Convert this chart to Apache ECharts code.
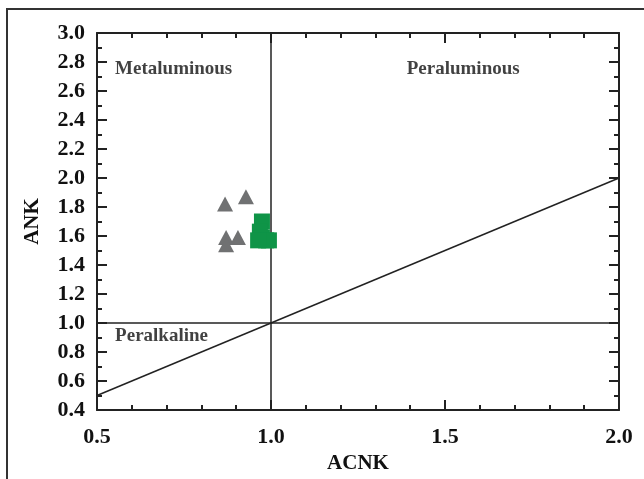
<!DOCTYPE html>
<html><head><meta charset="utf-8">
<script src="https://cdn.jsdelivr.net/npm/echarts@6/dist/echarts.min.js"></script>
<style>html,body{margin:0;padding:0;background:#fff}#c{width:644px;height:479px}</style>
</head><body><div id="c"></div>
<script>
const xTicks = [0.5, 1.0, 1.5, 2.0];
const yTicks = [0.4,0.6,0.8,1.0,1.2,1.4,1.6,1.8,2.0,2.2,2.4,2.6,2.8,3.0];
const triangleACNK = [0.868, 0.928, 0.871, 0.905, 0.871];
const triangleANK  = [1.82, 1.87, 1.59, 1.59, 1.54];
const squareACNK = [0.974, 0.968, 0.974, 0.986, 0.994, 0.963];
const squareANK  = [1.70, 1.63, 1.59, 1.57, 1.57, 1.57];
const vLine = [[1.0, 0.4], [1.0, 3.0]];
const hLine = [[0.5, 1.0], [2.0, 1.0]];
const diagLine = [[0.5, 0.5], [2.0, 2.0]];
const regionLabels = [
  {name: 'Metaluminous', x: 0.552, y: 2.75},
  {name: 'Peraluminous', x: 1.39, y: 2.75},
  {name: 'Peralkaline', x: 0.552, y: 0.91}
];

const font = '"Liberation Serif", "Times New Roman", serif';
const chart = echarts.init(document.getElementById('c'), null, {renderer: 'canvas'});
const axisLine = {lineStyle: {color: '#222', width: 2}};
const option = {
  animation: false,
  backgroundColor: '#fff',
  graphic: [{type: 'rect', shape: {x: 7, y: 9, width: 700, height: 500}, style: {fill: 'none', stroke: '#333', lineWidth: 2}, z: -1}],
  grid: {left: 97, right: 25, top: 33, bottom: 69},
  xAxis: [{
    type: 'value', min: 0.5, max: 2.0, interval: 0.5,
    name: 'ACNK', nameLocation: 'middle', nameGap: 42,
    nameTextStyle: {fontFamily: font, fontWeight: 'bold', fontSize: 21, color: '#111'},
    axisLine: axisLine,
    axisTick: {inside: true, length: 10, lineStyle: {color: '#222', width: 2}},
    minorTick: {show: true, splitNumber: 5, length: 5, lineStyle: {color: '#222', width: 2}},
    axisLabel: {fontFamily: font, fontWeight: 'bold', fontSize: 22, color: '#111', margin: 16, formatter: v => v.toFixed(1)},
    splitLine: {show: false}
  }, {
    type: 'value', position: 'top', min: 0.5, max: 2.0, interval: 0.5,
    axisLine: axisLine,
    axisTick: {inside: true, length: 10, lineStyle: {color: '#222', width: 2}},
    minorTick: {show: true, splitNumber: 5, length: 5, lineStyle: {color: '#222', width: 2}},
    axisLabel: {show: false}, splitLine: {show: false}
  }],
  yAxis: [{
    type: 'value', min: 0.4, max: 3.0, interval: 0.2,
    name: 'ANK', nameLocation: 'middle', nameGap: 54, nameRotate: 90,
    nameTextStyle: {fontFamily: font, fontWeight: 'bold', fontSize: 21, color: '#111'},
    axisLine: axisLine,
    axisTick: {inside: true, length: 10, lineStyle: {color: '#222', width: 2}},
    minorTick: {show: true, splitNumber: 2, length: 5, lineStyle: {color: '#222', width: 2}},
    axisLabel: {fontFamily: font, fontWeight: 'bold', fontSize: 22, color: '#111', margin: 12, formatter: v => v.toFixed(1)},
    splitLine: {show: false}
  }, {
    type: 'value', position: 'right', min: 0.4, max: 3.0, interval: 0.2,
    axisLine: axisLine,
    axisTick: {inside: true, length: 10, lineStyle: {color: '#222', width: 2}},
    minorTick: {show: true, splitNumber: 2, length: 5, lineStyle: {color: '#222', width: 2}},
    axisLabel: {show: false}, splitLine: {show: false}
  }],
  series: [
    {type: 'line', data: vLine, symbol: 'none', lineStyle: {color: '#222', width: 1.5}, z: 1},
    {type: 'line', data: hLine, symbol: 'none', lineStyle: {color: '#222', width: 1.5}, z: 1},
    {type: 'line', data: diagLine, symbol: 'none', lineStyle: {color: '#222', width: 1.5}, z: 1},
    {type: 'scatter', data: triangleACNK.map((x, i) => [x, triangleANK[i]]), symbol: 'triangle', symbolSize: [16, 15],
     itemStyle: {color: '#707172', opacity: 1}, z: 3},
    {type: 'scatter', data: squareACNK.map((x, i) => [x, squareANK[i]]), symbol: 'rect', symbolSize: 16,
     itemStyle: {color: '#0f9447', opacity: 1}, z: 4},
    {type: 'scatter', data: regionLabels.map(d => ({value: [d.x, d.y], name: d.name})), symbolSize: 0, silent: true,
     label: {show: true, position: 'right', distance: 0, formatter: p => p.name,
       fontFamily: font, fontWeight: 'bold', fontSize: 19, color: '#111'}, z: 5}
  ]
};
chart.setOption(option);
</script></body></html>
